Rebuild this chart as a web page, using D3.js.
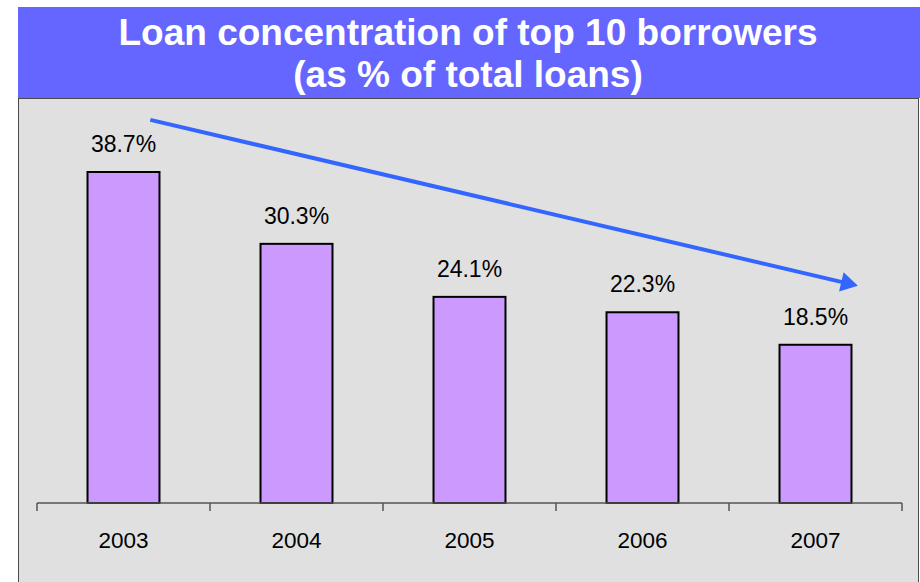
<!DOCTYPE html>
<html>
<head>
<meta charset="utf-8">
<script src="https://cdn.jsdelivr.net/npm/d3@7"></script>
<style>
  html, body { margin: 0; padding: 0; background: #ffffff; }
  svg { display: block; font-family: "Liberation Sans", Arial, sans-serif; }
</style>
</head>
<body>
<svg id="chart" width="920" height="582"></svg>
<script>
// Loan concentration data
const years = ["2003", "2004", "2005", "2006", "2007"];
const shares = [38.7, 30.3, 24.1, 22.3, 18.5];
const valueLabels = ["38.7%", "30.3%", "24.1%", "22.3%", "18.5%"];
const titleLines = ["Loan concentration of top 10 borrowers", "(as % of total loans)"];

const svg = d3.select("#chart");
const W = 920, H = 582;

// Title band
svg.append("rect")
  .attr("x", 18).attr("y", 7)
  .attr("width", W - 18).attr("height", 91)
  .attr("fill", "#6466ff");

svg.selectAll("text.title")
  .data(titleLines)
  .join("text")
  .attr("class", "title")
  .attr("x", 468)
  .attr("y", (d, i) => 45 + i * 42)
  .attr("text-anchor", "middle")
  .attr("fill", "#ffffff")
  .attr("font-weight", "bold")
  .attr("font-size", 37)
  .text(d => d);

// Plot panel
svg.append("rect")
  .attr("x", 18.5).attr("y", 98.5)
  .attr("width", 900).attr("height", 500)
  .attr("fill", "#e0e0e0")
  .attr("stroke", "#4a4a4a")
  .attr("stroke-width", 1);

// Scales
const x = d3.scaleBand()
  .domain(years)
  .range([37, 902])
  .paddingInner(0)
  .paddingOuter(0);

const y = d3.scaleLinear()
  .domain([0, 45])
  .range([503, 503 - 45 * (331 / 38.7)]);

const data = years.map((yr, i) => ({ year: yr, value: shares[i], label: valueLabels[i] }));
const barW = x.bandwidth() * 0.416;

// Bars
svg.selectAll("rect.bar")
  .data(data)
  .join("rect")
  .attr("class", "bar")
  .attr("x", d => x(d.year) + (x.bandwidth() - barW) / 2)
  .attr("y", d => y(d.value))
  .attr("width", barW)
  .attr("height", d => y(0) - y(d.value))
  .attr("fill", "#cc99ff")
  .attr("stroke", "#000000")
  .attr("stroke-width", 2);

// Value labels
svg.selectAll("text.val")
  .data(data)
  .join("text")
  .attr("class", "val")
  .attr("x", d => x(d.year) + x.bandwidth() / 2)
  .attr("y", d => y(d.value) - 20)
  .attr("text-anchor", "middle")
  .attr("font-size", 23)
  .attr("fill", "#000000")
  .text(d => d.label);

// Category axis with ticks at band boundaries
const axisG = svg.append("g").attr("transform", `translate(0,${y(0)})`);
axisG.append("line")
  .attr("x1", 37).attr("x2", 902)
  .attr("y1", 0).attr("y2", 0)
  .attr("stroke", "#555555").attr("stroke-width", 1.5);

const boundaries = years.map(yr => x(yr)).concat([x(years[years.length - 1]) + x.bandwidth()]);
axisG.selectAll("line.tick")
  .data(boundaries)
  .join("line")
  .attr("class", "tick")
  .attr("x1", d => d).attr("x2", d => d)
  .attr("y1", 0).attr("y2", 8)
  .attr("stroke", "#555555").attr("stroke-width", 1.5);

axisG.selectAll("text.yr")
  .data(years)
  .join("text")
  .attr("class", "yr")
  .attr("x", d => x(d) + x.bandwidth() / 2)
  .attr("y", 45)
  .attr("text-anchor", "middle")
  .attr("font-size", 22.5)
  .attr("fill", "#000000")
  .text(d => d);

// Downward trend arrow
const arrowStart = { year: "2003", frac: 0.655, value: 44.8 };
const arrowEnd = { year: "2007", frac: 0.745, value: 25.4 };
const ax1 = x(arrowStart.year) + x.bandwidth() * arrowStart.frac;
const ay1 = y(arrowStart.value);
const ax2 = x(arrowEnd.year) + x.bandwidth() * arrowEnd.frac;
const ay2 = y(arrowEnd.value);

const ang = Math.atan2(ay2 - ay1, ax2 - ax1);
const headLen = 17, headHalf = 10;
const bx = ax2 - headLen * Math.cos(ang), by = ay2 - headLen * Math.sin(ang);

svg.append("line")
  .attr("x1", ax1).attr("y1", ay1)
  .attr("x2", bx + 2 * Math.cos(ang)).attr("y2", by + 2 * Math.sin(ang))
  .attr("stroke", "#3366ff")
  .attr("stroke-width", 4);

svg.append("path")
  .attr("d", d3.line()([
    [ax2, ay2],
    [bx - headHalf * Math.sin(ang), by + headHalf * Math.cos(ang)],
    [bx + headHalf * Math.sin(ang), by - headHalf * Math.cos(ang)]
  ]) + "Z")
  .attr("fill", "#3366ff");
</script>
</body>
</html>
